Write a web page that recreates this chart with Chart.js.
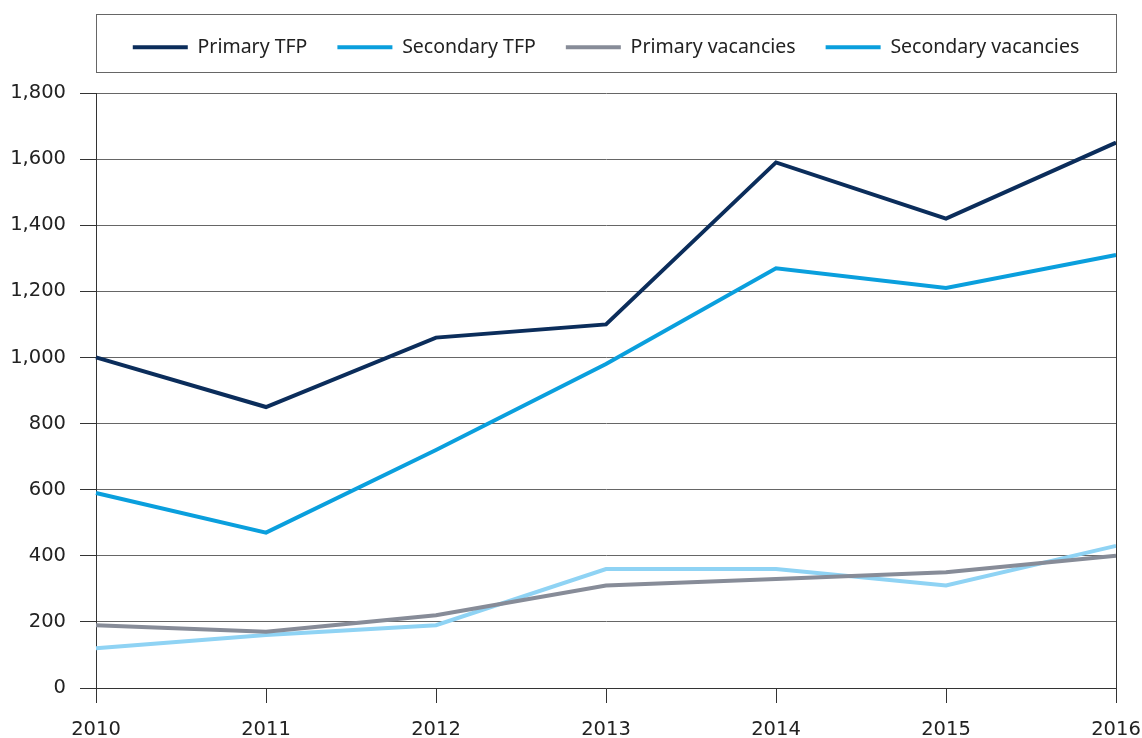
<!DOCTYPE html>
<html>
<head>
<meta charset="utf-8">
<script src="https://cdn.jsdelivr.net/npm/chart.js"></script>
<style>
  html, body { margin: 0; padding: 0; background: #fff; }
  #wrap { width: 1142px; height: 738px; }
</style>
</head>
<body>
<div id="wrap"><canvas id="myChart"></canvas></div>
<script>
// values
const years = ['2010', '2011', '2012', '2013', '2014', '2015', '2016'];
const primaryTFP = [1000, 850, 1060, 1100, 1590, 1420, 1650];
const secondaryTFP = [590, 470, 720, 980, 1270, 1210, 1310];
const primaryVacancies = [190, 170, 220, 310, 330, 350, 400];
const secondaryVacancies = [120, 160, 190, 360, 360, 310, 430];

const NAVY = '#0b2d5b';
const BLUE = '#0a9fdd';
const GREY = '#878c98';
const LIGHT = '#8fd3f4';
const LEG_PAD = 30;
const LEG_FONT = 19.5;

// box around the legend + closing line on the right of the plot
const frames = {
  id: 'frames',
  afterDraw(chart) {
    const { ctx, chartArea, legend } = chart;
    ctx.save();
    const mid = legend.top + LEG_PAD + LEG_FONT / 2;
    ctx.strokeStyle = '#666';
    ctx.lineWidth = 1;
    ctx.strokeRect(Math.round(chartArea.left) + 0.5, Math.round(mid - 33) + 0.5, chartArea.right - chartArea.left, 58);
    ctx.strokeStyle = '#333';
    ctx.beginPath();
    ctx.moveTo(Math.round(chartArea.right) + 0.5, chartArea.top);
    ctx.lineTo(Math.round(chartArea.right) + 0.5, chartArea.bottom + 15);
    ctx.stroke();
    ctx.restore();
  }
};

const ctx = document.getElementById('myChart').getContext('2d');
new Chart(ctx, {
  type: 'line',
  data: {
    labels: years,
    datasets: [
      { label: 'Primary TFP', data: primaryTFP, borderColor: NAVY, backgroundColor: NAVY },
      { label: 'Secondary TFP', data: secondaryTFP, borderColor: BLUE, backgroundColor: BLUE },
      { label: 'Primary vacancies', data: primaryVacancies, borderColor: GREY, backgroundColor: GREY },
      { label: 'Secondary vacancies', data: secondaryVacancies, borderColor: LIGHT, backgroundColor: LIGHT }
    ]
  },
  options: {
    responsive: true,
    maintainAspectRatio: false,
    animation: false,
    layout: { padding: { top: 7.5, right: 26, left: 0, bottom: 0 } },
    elements: {
      line: { borderWidth: 4, tension: 0 },
      point: { radius: 0 }
    },
    plugins: {
      tooltip: { enabled: false },
      // empty spacer between legend and plot
      title: { display: true, text: ' ', weight: 500, padding: 0, font: { size: 26, lineHeight: 1 } },
      legend: {
        position: 'top',
        fullSize: false,
        labels: {
          boxWidth: 55,
          boxHeight: 4,
          padding: LEG_PAD,
          color: '#222',
          font: { family: 'Noto Sans', size: LEG_FONT },
          generateLabels(chart) {
            const items = Chart.defaults.plugins.legend.labels.generateLabels(chart);
            items.forEach(it => {
              // the reference legend shows the mid blue for secondary vacancies too
              const c = it.datasetIndex === 3 ? BLUE : it.strokeStyle;
              it.fillStyle = c;
              it.strokeStyle = c;
              it.lineWidth = 0;
            });
            return items;
          }
        }
      }
    },
    scales: {
      x: {
        afterFit(scale) {
          scale.height = 50;
          scale.paddingRight = 26;
          scale.paddingLeft = 0;
        },
        grid: { drawOnChartArea: false, drawTicks: true, tickLength: 15, color: '#333', tickColor: '#333' },
        border: { display: true, color: '#333', width: 1 },
        ticks: { color: '#222', padding: 15, maxRotation: 0, font: { family: 'DejaVu Sans', size: 19.5 } }
      },
      y: {
        min: 0,
        max: 1800,
        afterFit(scale) { scale.width = 96; },
        grid: { color: '#666', tickLength: 16, tickColor: '#333' },
        border: { display: true, color: '#333', width: 1 },
        ticks: {
          stepSize: 200,
          color: '#222',
          padding: 14,
          font: { family: 'DejaVu Sans', size: 19.5 },
          callback: v => v.toLocaleString('en-US')
        }
      }
    }
  },
  plugins: [frames]
});
</script>
</body>
</html>
